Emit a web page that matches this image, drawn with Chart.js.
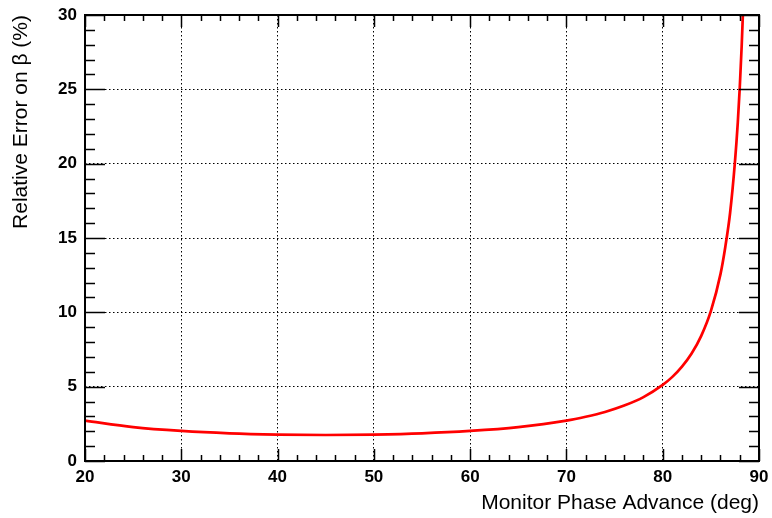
<!DOCTYPE html>
<html>
<head>
<meta charset="utf-8">
<script src="https://cdn.jsdelivr.net/npm/chart.js@4"></script>
<style>
  html, body { margin: 0; padding: 0; background: #fff; }
  #wrap { width: 772px; height: 518px; position: relative; }
</style>
</head>
<body>
<div id="wrap"><canvas id="beta"></canvas></div>
<script>
// Relative beta error vs monitor phase advance
const phaseAdvance = [20, 25, 30, 35, 40, 45, 50, 55, 60, 65, 70, 72, 74, 76, 78, 80, 81, 82, 83, 84, 85, 86, 86.5, 87, 87.5, 87.8, 88, 88.2, 88.4];
const relError     = [2.72, 2.28, 2.02, 1.86, 1.78, 1.75, 1.78, 1.86, 2.02, 2.28, 2.72, 2.98, 3.30, 3.73, 4.30, 5.12, 5.66, 6.35, 7.23, 8.42, 10.08, 12.57, 14.4, 16.7, 20.1, 22.8, 25.1, 27.9, 31.3];

const xTicks = { min: 20, max: 90, major: 10, minor: 2 };
const yTicks = { min: 0, max: 30, major: 5, minor: 1 };

const FONT = 'Liberation Sans, Arial, Helvetica, sans-serif';

// ROOT-like frame with inner tick marks on all four sides
const framePlugin = {
  id: 'frame',
  afterDatasetsDraw(chart) {
    const { ctx, chartArea: a, scales } = chart;
    ctx.save();
    ctx.strokeStyle = '#000';
    ctx.lineWidth = 1.5;
    ctx.beginPath();
    for (let v = xTicks.min; v <= xTicks.max + 1e-9; v += xTicks.minor) {
      const px = Math.round(scales.x.getPixelForValue(v)) + 0.5;
      const len = (v - xTicks.min) % xTicks.major === 0 ? 12 : 6;
      ctx.moveTo(px, a.bottom); ctx.lineTo(px, a.bottom - len);
      ctx.moveTo(px, a.top); ctx.lineTo(px, a.top + len);
    }
    for (let v = yTicks.min; v <= yTicks.max + 1e-9; v += yTicks.minor) {
      const py = Math.round(scales.y.getPixelForValue(v)) + 0.5;
      const len = (v - yTicks.min) % yTicks.major === 0 ? 20 : 10;
      ctx.moveTo(a.left, py); ctx.lineTo(a.left + len, py);
      ctx.moveTo(a.right, py); ctx.lineTo(a.right - len, py);
    }
    ctx.stroke();
    ctx.lineWidth = 2;
    ctx.strokeRect(a.left, a.top, a.right - a.left, a.bottom - a.top);
    ctx.restore();
  }
};

new Chart(document.getElementById('beta'), {
  type: 'line',
  data: {
    datasets: [{
      data: phaseAdvance.map((x, i) => ({ x, y: relError[i] })),
      borderColor: '#ff0000',
      borderWidth: 2.7,
      pointRadius: 0,
      cubicInterpolationMode: 'monotone',
      fill: false
    }]
  },
  options: {
    responsive: true,
    maintainAspectRatio: false,
    animation: false,
    layout: { padding: { top: 15, right: 13, left: 0, bottom: 0 } },
    plugins: { legend: { display: false }, tooltip: { enabled: false } },
    scales: {
      x: {
        type: 'linear',
        min: xTicks.min,
        max: xTicks.max,
        afterFit: s => { s.height = 57; s.paddingLeft = 0; s.paddingRight = 0; },
        ticks: { stepSize: xTicks.major, color: '#000', padding: 6, font: { family: FONT, size: 17, weight: 'bold' } },
        grid: { color: '#000', lineWidth: 1, drawTicks: false },
        border: { display: false, dash: [1.5, 2.5] },
        title: {
          display: true, align: 'end', text: 'Monitor Phase Advance (deg)',
          color: '#000', font: { family: FONT, size: 21 }, padding: { top: 0, bottom: 2 }
        }
      },
      y: {
        type: 'linear',
        min: yTicks.min,
        max: yTicks.max,
        afterFit: s => { s.width = 85; s.paddingTop = 0; s.paddingBottom = 0; },
        ticks: { stepSize: yTicks.major, color: '#000', padding: 8, font: { family: FONT, size: 17, weight: 'bold' } },
        grid: { color: '#000', lineWidth: 1, drawTicks: false },
        border: { display: false, dash: [1.5, 2.5] },
        title: {
          display: true, align: 'end', text: 'Relative Error on β (%)',
          color: '#000', font: { family: FONT, size: 21 }, padding: { top: 9, bottom: 0 }
        }
      }
    }
  },
  plugins: [framePlugin]
});
</script>
</body>
</html>
